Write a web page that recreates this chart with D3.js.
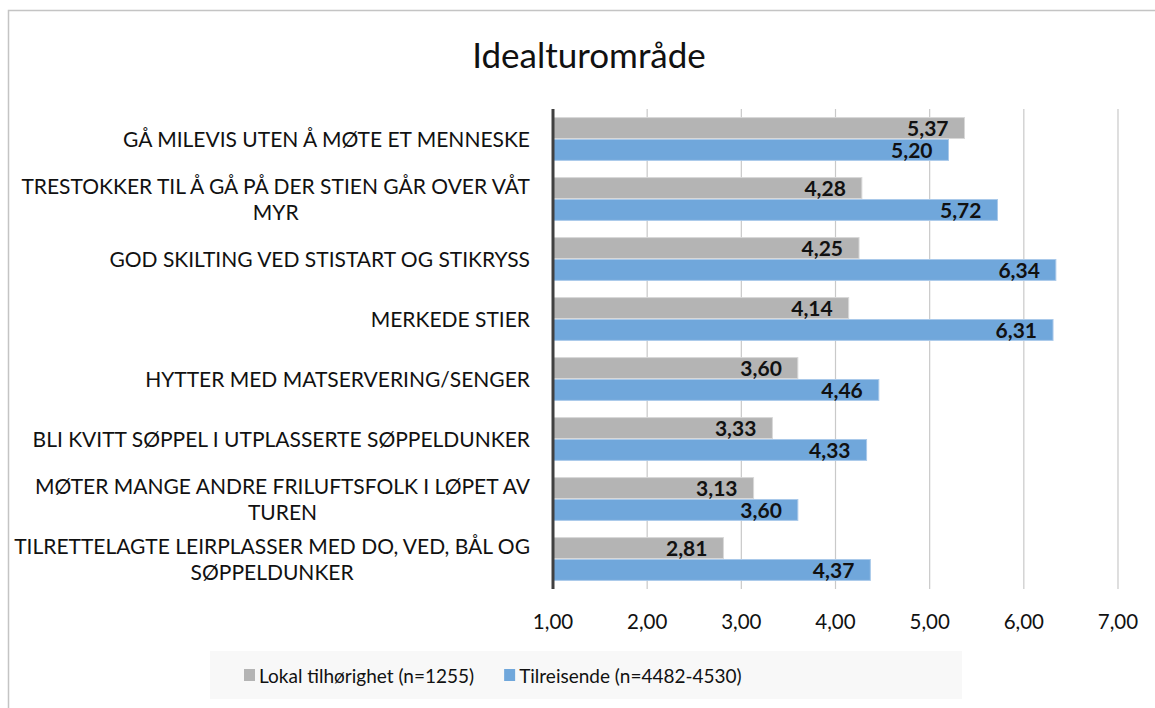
<!DOCTYPE html>
<html>
<head>
<meta charset="utf-8">
<script src="https://cdn.jsdelivr.net/npm/d3@7"></script>
<style>
  body { margin: 0; background: #fff; }
  svg text { font-family: Lato, "Open Sans", sans-serif; }
</style>
</head>
<body>
<div id="chart"></div>
<script>
// data
var categories = [
  "GÅ MILEVIS UTEN Å MØTE ET MENNESKE",
  "TRESTOKKER TIL Å GÅ PÅ DER STIEN GÅR OVER VÅT\nMYR",
  "GOD SKILTING VED STISTART OG STIKRYSS",
  "MERKEDE STIER",
  "HYTTER MED MATSERVERING/SENGER",
  "BLI KVITT SØPPEL I UTPLASSERTE SØPPELDUNKER",
  "MØTER MANGE ANDRE FRILUFTSFOLK I LØPET AV\nTUREN",
  "TILRETTELAGTE LEIRPLASSER MED DO, VED, BÅL OG\nSØPPELDUNKER"
];
var lokal = [5.37, 4.28, 4.25, 4.14, 3.60, 3.33, 3.13, 2.81];
var tilreisende = [5.20, 5.72, 6.34, 6.31, 4.46, 4.33, 3.60, 4.37];
var seriesNames = ["Lokal tilhørighet (n=1255)", "Tilreisende (n=4482-4530)"];
var seriesColors = ["#b4b4b4", "#70a7db"];
var xTicks = [1, 2, 3, 4, 5, 6, 7];

var W = 1155, H = 708;
var margin = {top: 109, right: 37, bottom: 119, left: 553},
    width = W - margin.left - margin.right,
    height = H - margin.top - margin.bottom;

var fmt = function(v) { return d3.format(".2f")(v).replace(".", ","); };

var svg = d3.select("#chart").append("svg")
    .attr("width", W).attr("height", H);

// outer frame (runs off the right / bottom edge like the original)
svg.append("rect")
    .attr("x", 8.5).attr("y", 10.5)
    .attr("width", 1300).attr("height", 900)
    .attr("fill", "#fff").attr("stroke", "#c4c4c4").attr("stroke-width", 1.5);

svg.append("text")
    .attr("x", 589).attr("y", 68)
    .attr("text-anchor", "middle")
    .attr("font-size", "35px")
    .attr("fill", "#111")
    .text("Idealturområde");

var g = svg.append("g")
    .attr("transform", "translate(" + margin.left + "," + margin.top + ")");

var x = d3.scaleLinear().domain([1, 7]).range([0, width]);
var y = d3.scaleBand().domain(d3.range(categories.length)).range([0, height]).paddingInner(0.27).paddingOuter(0.135);
var y1 = d3.scaleBand().domain([0, 1]).range([0, y.bandwidth()]);

// gridlines
g.selectAll(".grid").data(xTicks.slice(1)).enter()
  .append("line")
    .attr("x1", function(d) { return x(d); })
    .attr("x2", function(d) { return x(d); })
    .attr("y1", 0).attr("y2", height)
    .attr("stroke", "#c9c9c9").attr("stroke-width", 1.2);

// bars
var rows = g.selectAll(".row").data(categories).enter()
  .append("g")
    .attr("transform", function(d, i) { return "translate(0," + y(i) + ")"; });

[lokal, tilreisende].forEach(function(series, s) {
  rows.append("rect")
      .attr("x", x(1))
      .attr("y", y1(s) + 0.5)
      .attr("width", function(d, i) { return x(series[i]) - x(1); })
      .attr("height", y1.bandwidth() - 1)
      .attr("fill", seriesColors[s])
      .attr("stroke", s == 0 ? "#d8d8d8" : "#a9c9ea")
      .attr("stroke-width", 1);

  rows.append("text")
      .attr("x", function(d, i) { return x(series[i]) - 16; })
      .attr("y", y1(s) + y1.bandwidth() / 2)
      .attr("dy", "0.4em")
      .attr("text-anchor", "end")
      .attr("font-size", "21px")
      .attr("font-weight", "bold")
      .attr("fill", "#111")
      .text(function(d, i) { return fmt(series[i]); });
});

// category labels: lines centred within a block, block right aligned
var labelRight = -23;
var lineH = 26;
categories.forEach(function(c, i) {
  var lines = c.split("\n");
  var t = g.append("text")
      .attr("font-size", "21px")
      .attr("fill", "#111")
      .attr("text-anchor", "middle");
  var spans = lines.map(function(l, k) {
    return t.append("tspan")
      .attr("y", y(i) + y.bandwidth() / 2 + (k - (lines.length - 1) / 2) * lineH)
      .attr("dy", "0.36em")
      .text(l);
  });
  var bw = d3.max(spans, function(sp) { return sp.node().getComputedTextLength(); });
  spans.forEach(function(sp) { sp.attr("x", labelRight - bw / 2); });
});

// x axis labels
g.selectAll(".tick-label").data(xTicks).enter()
  .append("text")
    .attr("x", function(d) { return x(d); })
    .attr("y", height + 40)
    .attr("text-anchor", "middle")
    .attr("font-size", "20.5px")
    .attr("fill", "#111")
    .text(fmt);

// y axis line
g.append("line")
    .attr("x1", 0).attr("x2", 0)
    .attr("y1", 0).attr("y2", height)
    .attr("stroke", "#404040").attr("stroke-width", 3);

// legend
var legend = svg.append("g");
legend.append("rect")
    .attr("x", 210).attr("y", 651)
    .attr("width", 752).attr("height", 48)
    .attr("fill", "#f8f8f8");

var lx = 244;
seriesNames.forEach(function(n, s) {
  legend.append("rect")
      .attr("x", lx).attr("y", 669)
      .attr("width", 11).attr("height", 12)
      .attr("fill", seriesColors[s]);
  var t = legend.append("text")
      .attr("x", lx + 15).attr("y", 683)
      .attr("font-size", "19px")
      .attr("fill", "#111")
      .text(n);
  lx = lx + 15 + t.node().getComputedTextLength() + 30;
});
</script>
</body>
</html>
